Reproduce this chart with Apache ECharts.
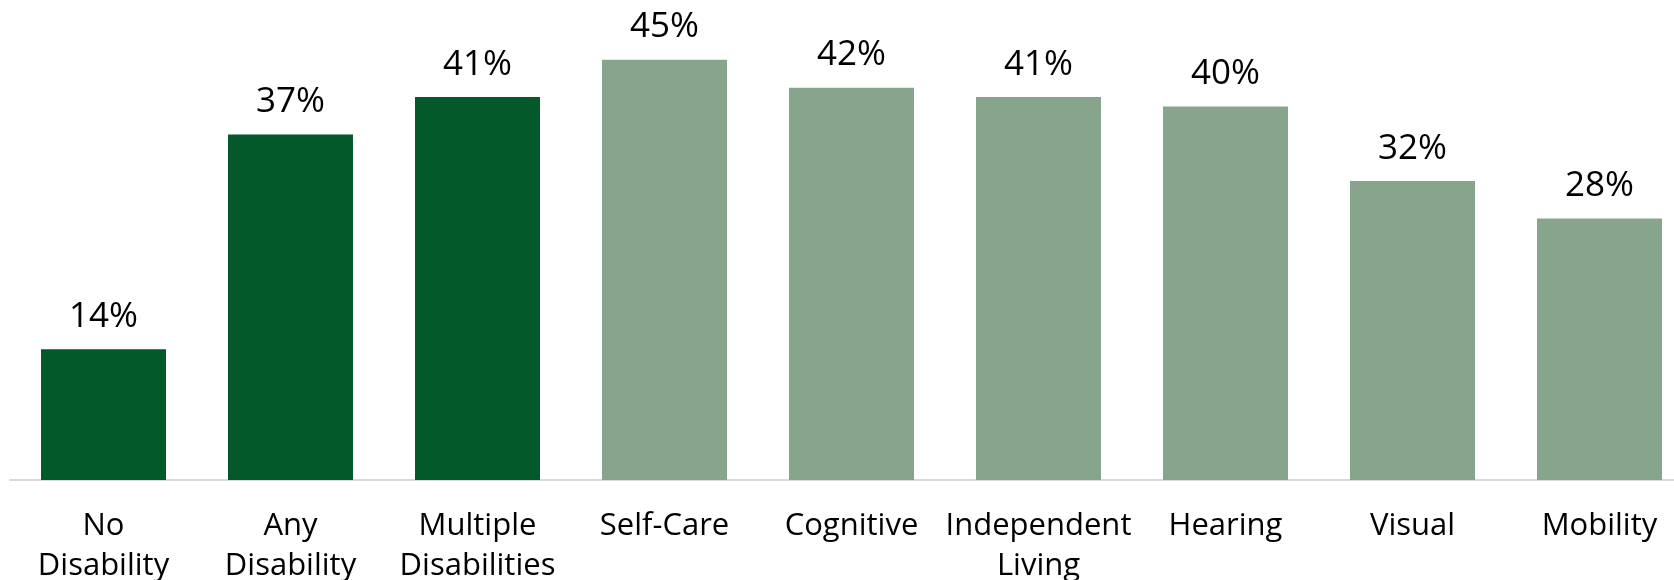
<!DOCTYPE html>
<html>
<head>
<meta charset="utf-8">
<script src="https://cdn.jsdelivr.net/npm/echarts@6/dist/echarts.min.js"></script>
<style>
    html, body { margin: 0; padding: 0; background: #fff; }
    #chart { width: 1674px; height: 580px; }
</style>
</head>
<body>
<div id="chart"></div>
<script>
// categories along the x axis
var categories = ['No\nDisability', 'Any\nDisability', 'Multiple\nDisabilities', 'Self-Care',
    'Cognitive', 'Independent\nLiving', 'Hearing', 'Visual', 'Mobility']
// share in percent
var values = [14, 37, 41, 45, 42, 41, 40, 32, 28]
// overall groups vs single disability types
var groups = ['overall', 'overall', 'overall', 'type', 'type', 'type', 'type', 'type', 'type']

var groupColors = {
    overall: '#04592a',
    type: '#87a58c'
}

var myChart = echarts.init(document.getElementById('chart'))

var option = {
    animation: false,
    grid: {
        left: 10,
        top: 13,
        width: 1683,
        bottom: 100,
        containLabel: false,
        outerBoundsMode: 'none'
    },
    xAxis: {
        type: 'category',
        data: categories,
        axisTick: { show: false },
        axisLine: {
            lineStyle: { color: '#d9d9d9', width: 2 }
        },
        axisLabel: {
            interval: 0,
            margin: 26,
            color: '#000',
            fontFamily: 'Open Sans',
            fontSize: 31,
            lineHeight: 40
        }
    },
    yAxis: {
        type: 'value',
        min: 0,
        max: 50,
        show: false,
        splitLine: { show: false }
    },
    series: [{
        type: 'bar',
        barWidth: 125,
        data: values.map(function (v, i) {
            return {
                value: v,
                itemStyle: { color: groupColors[groups[i]] }
            }
        }),
        label: {
            show: true,
            position: 'top',
            distance: 15,
            color: '#000',
            fontFamily: 'Open Sans',
            fontSize: 35,
            formatter: function (p) {
                return p.value + '%'
            }
        }
    }]
}

myChart.setOption(option)
</script>
</body>
</html>
